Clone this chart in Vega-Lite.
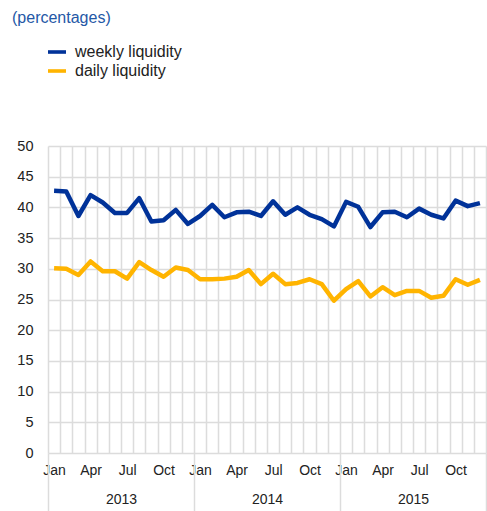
{
  "$schema": "https://vega.github.io/schema/vega-lite/v6.json",
  "width": 438,
  "height": 307,
  "autosize": {"type": "none"},
  "padding": {"left": 48, "top": 146, "right": 1, "bottom": 58},
  "title": {"text": "(percentages)", "anchor": "start", "frame": "group", "dx": -36, "offset": 17, "fontSize": 16, "fontWeight": "normal", "color": "#2458a6", "font": "Liberation Sans"},
  "config": {"view": {"stroke": null}, "font": "Liberation Sans"},
  "datasets": {
    "series": [
      {"month": "2013-01", "series": "weekly liquidity", "value": 42.7},
      {"month": "2013-02", "series": "weekly liquidity", "value": 42.6},
      {"month": "2013-03", "series": "weekly liquidity", "value": 38.6},
      {"month": "2013-04", "series": "weekly liquidity", "value": 42.0},
      {"month": "2013-05", "series": "weekly liquidity", "value": 40.8},
      {"month": "2013-06", "series": "weekly liquidity", "value": 39.1},
      {"month": "2013-07", "series": "weekly liquidity", "value": 39.1},
      {"month": "2013-08", "series": "weekly liquidity", "value": 41.5},
      {"month": "2013-09", "series": "weekly liquidity", "value": 37.7},
      {"month": "2013-10", "series": "weekly liquidity", "value": 37.9},
      {"month": "2013-11", "series": "weekly liquidity", "value": 39.6},
      {"month": "2013-12", "series": "weekly liquidity", "value": 37.3},
      {"month": "2014-01", "series": "weekly liquidity", "value": 38.6},
      {"month": "2014-02", "series": "weekly liquidity", "value": 40.4},
      {"month": "2014-03", "series": "weekly liquidity", "value": 38.4},
      {"month": "2014-04", "series": "weekly liquidity", "value": 39.2},
      {"month": "2014-05", "series": "weekly liquidity", "value": 39.3},
      {"month": "2014-06", "series": "weekly liquidity", "value": 38.6},
      {"month": "2014-07", "series": "weekly liquidity", "value": 41.0},
      {"month": "2014-08", "series": "weekly liquidity", "value": 38.8},
      {"month": "2014-09", "series": "weekly liquidity", "value": 40.0},
      {"month": "2014-10", "series": "weekly liquidity", "value": 38.8},
      {"month": "2014-11", "series": "weekly liquidity", "value": 38.1},
      {"month": "2014-12", "series": "weekly liquidity", "value": 36.9},
      {"month": "2015-01", "series": "weekly liquidity", "value": 40.9},
      {"month": "2015-02", "series": "weekly liquidity", "value": 40.1},
      {"month": "2015-03", "series": "weekly liquidity", "value": 36.8},
      {"month": "2015-04", "series": "weekly liquidity", "value": 39.2},
      {"month": "2015-05", "series": "weekly liquidity", "value": 39.3},
      {"month": "2015-06", "series": "weekly liquidity", "value": 38.4},
      {"month": "2015-07", "series": "weekly liquidity", "value": 39.8},
      {"month": "2015-08", "series": "weekly liquidity", "value": 38.8},
      {"month": "2015-09", "series": "weekly liquidity", "value": 38.2},
      {"month": "2015-10", "series": "weekly liquidity", "value": 41.1},
      {"month": "2015-11", "series": "weekly liquidity", "value": 40.2},
      {"month": "2015-12", "series": "weekly liquidity", "value": 40.7},
      {"month": "2013-01", "series": "daily liquidity", "value": 30.1},
      {"month": "2013-02", "series": "daily liquidity", "value": 30.0},
      {"month": "2013-03", "series": "daily liquidity", "value": 29.0},
      {"month": "2013-04", "series": "daily liquidity", "value": 31.2},
      {"month": "2013-05", "series": "daily liquidity", "value": 29.6},
      {"month": "2013-06", "series": "daily liquidity", "value": 29.6},
      {"month": "2013-07", "series": "daily liquidity", "value": 28.4},
      {"month": "2013-08", "series": "daily liquidity", "value": 31.1},
      {"month": "2013-09", "series": "daily liquidity", "value": 29.8},
      {"month": "2013-10", "series": "daily liquidity", "value": 28.7},
      {"month": "2013-11", "series": "daily liquidity", "value": 30.2},
      {"month": "2013-12", "series": "daily liquidity", "value": 29.8},
      {"month": "2014-01", "series": "daily liquidity", "value": 28.3},
      {"month": "2014-02", "series": "daily liquidity", "value": 28.3},
      {"month": "2014-03", "series": "daily liquidity", "value": 28.4},
      {"month": "2014-04", "series": "daily liquidity", "value": 28.7},
      {"month": "2014-05", "series": "daily liquidity", "value": 29.8},
      {"month": "2014-06", "series": "daily liquidity", "value": 27.5},
      {"month": "2014-07", "series": "daily liquidity", "value": 29.2},
      {"month": "2014-08", "series": "daily liquidity", "value": 27.5},
      {"month": "2014-09", "series": "daily liquidity", "value": 27.7},
      {"month": "2014-10", "series": "daily liquidity", "value": 28.3},
      {"month": "2014-11", "series": "daily liquidity", "value": 27.5},
      {"month": "2014-12", "series": "daily liquidity", "value": 24.8},
      {"month": "2015-01", "series": "daily liquidity", "value": 26.7},
      {"month": "2015-02", "series": "daily liquidity", "value": 28.0},
      {"month": "2015-03", "series": "daily liquidity", "value": 25.5},
      {"month": "2015-04", "series": "daily liquidity", "value": 27.0},
      {"month": "2015-05", "series": "daily liquidity", "value": 25.7},
      {"month": "2015-06", "series": "daily liquidity", "value": 26.4},
      {"month": "2015-07", "series": "daily liquidity", "value": 26.4},
      {"month": "2015-08", "series": "daily liquidity", "value": 25.3},
      {"month": "2015-09", "series": "daily liquidity", "value": 25.6},
      {"month": "2015-10", "series": "daily liquidity", "value": 28.3},
      {"month": "2015-11", "series": "daily liquidity", "value": 27.4},
      {"month": "2015-12", "series": "daily liquidity", "value": 28.2}
    ],
    "years": [{"year": "2013"}, {"year": "2014"}, {"year": "2015"}]
  },
  "layer": [
    {
      "data": {"name": "series"},
      "mark": {"type": "line", "strokeWidth": 4.5, "strokeJoin": "round"},
      "encoding": {
        "x": {
          "field": "month", "type": "ordinal",
          "scale": {"type": "band", "paddingInner": 0, "paddingOuter": 0},
          "axis": {
            "orient": "bottom", "title": null, "domain": false, "ticks": false, "grid": true,
            "tickBand": "extent", "gridColor": "#dcdcdc", "gridWidth": 1.5,
            "labelAngle": 0, "labelFontSize": 14, "labelColor": "#222222", "labelPadding": 10,
            "labelExpr": "substring(datum.value,5,7)=='01'?'Jan':substring(datum.value,5,7)=='04'?'Apr':substring(datum.value,5,7)=='07'?'Jul':substring(datum.value,5,7)=='10'?'Oct':''"
          }
        },
        "y": {
          "field": "value", "type": "quantitative",
          "scale": {"domain": [0, 50]},
          "axis": {
            "title": null, "values": [0, 5, 10, 15, 20, 25, 30, 35, 40, 45, 50],
            "domain": false, "ticks": false, "labelPadding": 15,
            "gridColor": "#dcdcdc", "gridWidth": 1.5,
            "labelFontSize": 14.5, "labelColor": "#222222"
          }
        },
        "color": {
          "field": "series", "type": "nominal",
          "sort": ["weekly liquidity", "daily liquidity"],
          "scale": {"domain": ["weekly liquidity", "daily liquidity"], "range": ["#003299", "#ffb400"]},
          "legend": {
            "title": null, "orient": "none", "legendX": 0, "legendY": -103, "padding": 0,
            "symbolType": "M-1,-0.2H1V0.2H-1Z", "symbolSize": 324, "symbolStrokeWidth": 0,
            "labelFontSize": 16, "labelColor": "#222222", "labelOffset": 9, "rowPadding": 2,
            "encode": {"symbols": {"update": {"fill": {"scale": "color", "field": "value"}, "strokeWidth": {"value": 0}}}}
          }
        }
      }
    },
    {
      "data": {"name": "years"},
      "mark": {"type": "text"},
      "encoding": {
        "x": {
          "field": "year", "type": "ordinal",
          "scale": {"type": "band", "paddingInner": 0, "paddingOuter": 0},
          "axis": {
            "orient": "bottom", "title": null, "domain": false, "ticks": true, "grid": false,
            "tickBand": "extent", "tickSize": 58, "tickColor": "#dcdcdc", "tickWidth": 1.5,
            "labelAngle": 0, "labelFontSize": 14, "labelColor": "#222222", "labelPadding": -19
          }
        },
        "text": {"value": ""}
      }
    }
  ],
  "resolve": {"scale": {"x": "independent"}, "axis": {"x": "independent"}}
}
